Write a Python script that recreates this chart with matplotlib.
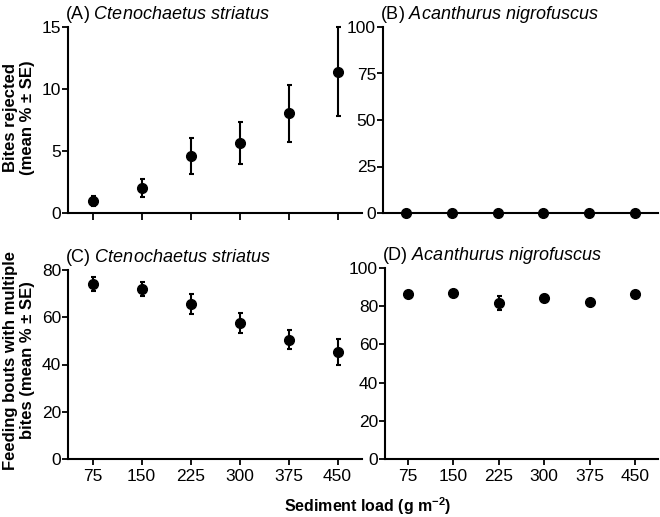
import matplotlib
matplotlib.use('Agg')
import matplotlib.pyplot as plt

plt.rcParams['font.family'] = ['Liberation Sans', 'DejaVu Sans']
plt.rcParams['mathtext.fontset'] = 'custom'
plt.rcParams['mathtext.rm'] = 'Liberation Sans:bold'
plt.rcParams['mathtext.it'] = 'Liberation Sans:italic'

loads = ['75', '150', '225', '300', '375', '450']

# bites rejected (mean %, SE)
rej_cs = [0.95, 2.0, 4.6, 5.65, 8.05, 11.4]
rej_cs_se = [0.4, 0.72, 1.43, 1.68, 2.3, 3.6]
rej_an = [0, 0, 0, 0, 0, 0]
rej_an_se = [0, 0, 0, 0, 0, 0]

# feeding bouts with multiple bites (mean %, SE)
multi_cs = [74.2, 71.8, 65.5, 57.6, 50.5, 45.4]
multi_cs_se = [3.0, 3.0, 4.2, 4.3, 4.0, 5.5]
multi_an = [86.2, 87.0, 81.8, 84.5, 82.2, 86.5]
multi_an_se = [1.2, 1.0, 3.8, 1.5, 0.8, 1.0]

W, H = 660, 517
fig = plt.figure(figsize=(W / 100, H / 100), dpi=100)

def box(l, r, t, b):
    return [l / W, 1 - b / H, (r - l) / W, (b - t) / H]

panels = [
    (box(68, 362, 27, 213), rej_cs, rej_cs_se, 15, 5, '(A) ', 'Ctenochaetus\\ striatus', 'top-left'),
    (box(383, 658, 27, 213), rej_an, rej_an_se, 100, 25, '(B) ', 'Acanthurus\\ nigrofuscus', 'top-right'),
    (box(68, 362, 270, 459), multi_cs, multi_cs_se, 80, 20, '(C) ', 'Ctenochaetus\\ striatus', 'bottom-left'),
    (box(385, 658, 268, 459), multi_an, multi_an_se, 100, 20, '(D) ', 'Acanthurus\\ nigrofuscus', 'bottom-right'),
]

xs = list(range(len(loads)))
for rect, vals, se, ymax, ystep, tag, species, where in panels:
    ax = fig.add_axes(rect)
    ax.errorbar(xs, vals, yerr=se, fmt='o', color='black', ms=7,
                elinewidth=1.5, capsize=1.8, capthick=1.5, clip_on=False, zorder=3)
    ax.set_xlim(-0.5, 5.5)
    ax.set_ylim(0, ymax)
    ax.set_yticks(range(0, ymax + 1, ystep))
    ax.set_xticks(xs)
    for s in ['top', 'right']:
        ax.spines[s].set_visible(False)
    for s in ['left', 'bottom']:
        ax.spines[s].set_linewidth(1.5)
    ax.tick_params(axis='y', length=4, width=1.3, labelsize=12.5, pad=1)
    if where.startswith('bottom'):
        ax.set_xticklabels(loads)
        ax.tick_params(axis='x', length=4, width=1.3, labelsize=12.5, pad=3)
    else:
        ax.set_xticklabels([])
        if where == 'top-left':
            ax.tick_params(axis='x', length=5, width=1.3)
        else:
            ax.tick_params(axis='x', length=0)
    ax.set_title(tag + '$\\it{' + species + '}$', loc='left', fontsize=13, pad=6, x=-0.01)

fig.text(19 / W, 1 - 118 / H, 'Bites rejected\n(mean % ± SE)', rotation=90,
         ha='center', va='center', fontsize=12, fontweight='bold', multialignment='center',
         linespacing=1.1)
fig.text(19 / W, 1 - 360 / H, 'Feeding bouts with multiple\nbites (mean % ± SE)', rotation=90,
         ha='center', va='center', fontsize=12, fontweight='bold', multialignment='center',
         linespacing=1.1)
fig.text(368 / W, 1 - 506 / H, 'Sediment load (g m$^{-2}$)', ha='center', va='center',
         fontsize=11.5, fontweight='bold')

fig.savefig('out.png', dpi=100)
